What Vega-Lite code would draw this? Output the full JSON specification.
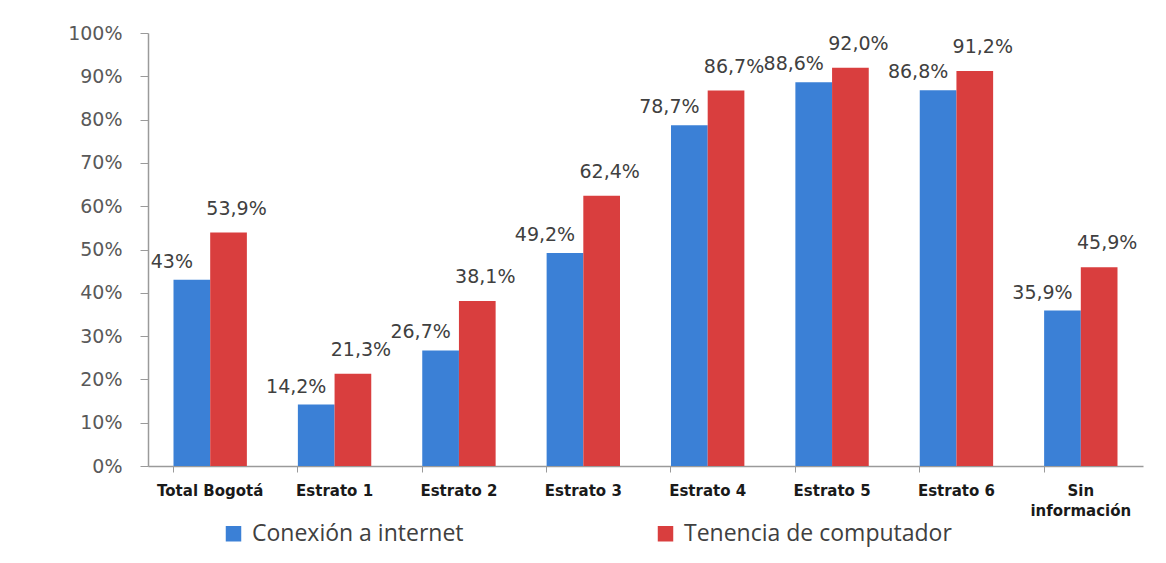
{
  "$schema": "https://vega.github.io/schema/vega-lite/v6.json",
  "width": 995,
  "height": 433,
  "autosize": {"type": "none"},
  "padding": {"left": 148, "top": 33, "right": 23, "bottom": 97},
  "background": "white",
  "config": {"view": {"stroke": null}},
  "data": {
    "values": [
      {"cat": "Total Bogotá", "serie": "Conexión a internet", "v": 0.43, "lab": "43%"},
      {"cat": "Total Bogotá", "serie": "Tenencia de computador", "v": 0.539, "lab": "53,9%"},
      {"cat": "Estrato 1", "serie": "Conexión a internet", "v": 0.142, "lab": "14,2%"},
      {"cat": "Estrato 1", "serie": "Tenencia de computador", "v": 0.213, "lab": "21,3%"},
      {"cat": "Estrato 2", "serie": "Conexión a internet", "v": 0.267, "lab": "26,7%"},
      {"cat": "Estrato 2", "serie": "Tenencia de computador", "v": 0.381, "lab": "38,1%"},
      {"cat": "Estrato 3", "serie": "Conexión a internet", "v": 0.492, "lab": "49,2%"},
      {"cat": "Estrato 3", "serie": "Tenencia de computador", "v": 0.624, "lab": "62,4%"},
      {"cat": "Estrato 4", "serie": "Conexión a internet", "v": 0.787, "lab": "78,7%"},
      {"cat": "Estrato 4", "serie": "Tenencia de computador", "v": 0.867, "lab": "86,7%"},
      {"cat": "Estrato 5", "serie": "Conexión a internet", "v": 0.886, "lab": "88,6%"},
      {"cat": "Estrato 5", "serie": "Tenencia de computador", "v": 0.92, "lab": "92,0%"},
      {"cat": "Estrato 6", "serie": "Conexión a internet", "v": 0.868, "lab": "86,8%"},
      {"cat": "Estrato 6", "serie": "Tenencia de computador", "v": 0.912, "lab": "91,2%"},
      {"cat": "Sin información", "serie": "Conexión a internet", "v": 0.359, "lab": "35,9%"},
      {"cat": "Sin información", "serie": "Tenencia de computador", "v": 0.459, "lab": "45,9%"}
    ]
  },
  "encoding": {
    "x": {
      "field": "cat", "type": "nominal", "sort": null, "title": null,
      "scale": {"paddingInner": 0.41, "paddingOuter": 0.205},
      "axis": {
        "labelAngle": 0, "bandPosition": 0, "labelFont": "DejaVu Sans", "labelFontWeight": "bold",
        "labelFontSize": 15, "labelColor": "#1a1a1a", "labelPadding": 11, "labelLimit": 200,
        "labelLineHeight": 20,
        "domainColor": "#9a9a9a", "tickColor": "#9a9a9a", "tickSize": 6, "domainWidth": 1.5,
        "labelExpr": "datum.label == 'Sin información' ? ['Sin', 'información'] : datum.label"
      }
    },
    "xOffset": {"field": "serie", "type": "nominal", "sort": ["Conexión a internet", "Tenencia de computador"]},
    "y": {
      "field": "v", "type": "quantitative", "title": null,
      "scale": {"domain": [0, 1]},
      "axis": {
        "format": ".0%", "values": [0, 0.1, 0.2, 0.3, 0.4, 0.5, 0.6, 0.7, 0.8, 0.9, 1],
        "labelOverlap": false, "labelFlush": false,
        "grid": false, "labelFont": "DejaVu Sans", "labelFontSize": 19, "labelColor": "#595959",
        "labelPadding": 18, "domainColor": "#9a9a9a", "tickColor": "#9a9a9a", "tickSize": 8, "domainWidth": 1.5
      }
    }
  },
  "layer": [
    {
      "mark": {"type": "bar"},
      "encoding": {
        "color": {
          "field": "serie", "type": "nominal", "title": null,
          "scale": {"domain": ["Conexión a internet", "Tenencia de computador"], "range": ["#3b80d6", "#d93e3e"]},
          "legend": {
            "orient": "none", "direction": "horizontal", "legendX": 74, "legendY": 489,
            "symbolType": "square", "symbolSize": 240, "symbolStrokeWidth": 0,
            "labelFont": "Open Sans", "labelFontSize": 23, "labelColor": "#404040",
            "columnPadding": 190, "labelOffset": 7, "labelLimit": 400
          }
        }
      }
    },
    {
      "transform": [{"filter": "datum.serie == 'Conexión a internet'"}],
      "mark": {"type": "text", "baseline": "bottom", "align": "center", "dx": -20, "dy": -8,
               "font": "DejaVu Sans", "fontSize": 19, "color": "#404040"},
      "encoding": {"text": {"field": "lab"}}
    },
    {
      "transform": [{"filter": "datum.serie == 'Tenencia de computador'"}],
      "mark": {"type": "text", "baseline": "bottom", "align": "center", "dx": 8, "dy": -14,
               "font": "DejaVu Sans", "fontSize": 19, "color": "#404040"},
      "encoding": {"text": {"field": "lab"}}
    }
  ]
}
